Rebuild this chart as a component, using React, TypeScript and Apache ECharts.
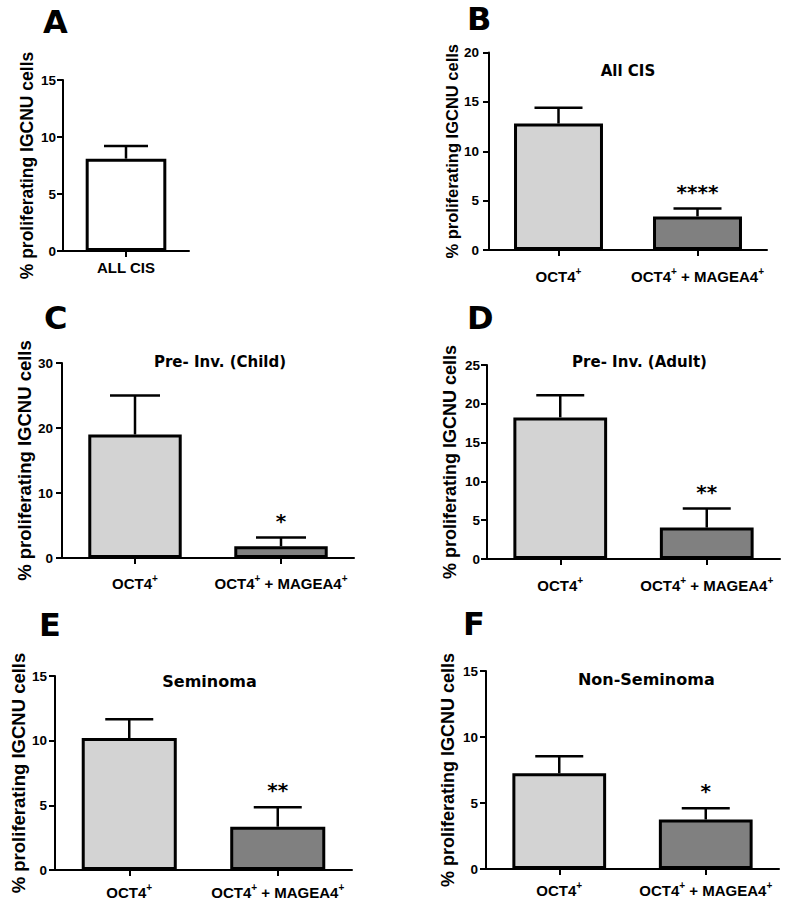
import React, { useEffect, useRef } from "react";
import * as echarts from "echarts";

// ---------- data ----------
const yAxisTitle = "% proliferating IGCNU cells";
const panelLetters = ["A", "B", "C", "D", "E", "F"];
const panelTitles = ["", "All CIS", "Pre- Inv. (Child)", "Pre- Inv. (Adult)", "Seminoma", "Non-Seminoma"];

const catsA = ["ALL CIS"];
const catsPair = ["OCT4+", "OCT4+ + MAGEA4+"];

const meanA = [8.1];
const errA = [9.2];
const sigA = [""];

const meanB = [12.8, 3.4];
const errB = [14.4, 4.2];
const sigB = ["", "****"];

const meanC = [19.0, 1.8];
const errC = [25.0, 3.15];
const sigC = ["", "*"];

const meanD = [18.25, 4.05];
const errD = [21.1, 6.5];
const sigD = ["", "**"];

const meanE = [10.2, 3.35];
const errE = [11.65, 4.85];
const sigE = ["", "**"];

const meanF = [7.25, 3.75];
const errF = [8.55, 4.6];
const sigF = ["", "*"];

const yMaxes = [15, 20, 30, 25, 15, 15];
const yIntervals = [5, 5, 10, 5, 5, 5];

// ---------- layout / style ----------
const TFONT = "DejaVu Sans";
const AFONT = "Liberation Sans";
const LIGHT = "#d3d3d3";
const DARK = "#808080";

const panels = [
  { cats: catsA, mean: meanA, err: errA, sig: sigA, colors: ["#ffffff"] },
  { cats: catsPair, mean: meanB, err: errB, sig: sigB, colors: [LIGHT, DARK] },
  { cats: catsPair, mean: meanC, err: errC, sig: sigC, colors: [LIGHT, DARK] },
  { cats: catsPair, mean: meanD, err: errD, sig: sigD, colors: [LIGHT, DARK] },
  { cats: catsPair, mean: meanE, err: errE, sig: sigE, colors: [LIGHT, DARK] },
  { cats: catsPair, mean: meanF, err: errF, sig: sigF, colors: [LIGHT, DARK] },
];

const layouts = [
  { left: 63, top: 80, width: 126, height: 171, labelMargin: 6.3, tickMargin: 7, nameGap: 27, nameSize: 17.5, letter: [43, 21.5], title: [0, 0], titleSize: 15, cap: 22 },
  { left: 489, top: 52.5, width: 278, height: 197.5, labelMargin: 16.3, tickMargin: 10, nameGap: 29, nameSize: 16.5, letter: [467, 19], title: [628, 70.5], titleSize: 15, cap: 24 },
  { left: 62, top: 363, width: 292, height: 195, labelMargin: 15.3, tickMargin: 9, nameGap: 26, nameSize: 18.5, letter: [44, 317.5], title: [220, 361.5], titleSize: 15, cap: 25 },
  { left: 487, top: 365, width: 293, height: 194, labelMargin: 16.3, tickMargin: 7, nameGap: 28, nameSize: 18, letter: [467, 317.5], title: [639.5, 361.5], titleSize: 15, cap: 24 },
  { left: 55, top: 676, width: 297, height: 194, labelMargin: 12.3, tickMargin: 8, nameGap: 20, nameSize: 18.5, letter: [39, 625], title: [209.5, 681.5], titleSize: 16, cap: 24 },
  { left: 486, top: 671, width: 293, height: 198, labelMargin: 11.3, tickMargin: 8, nameGap: 29, nameSize: 18, letter: [463, 624], title: [646.3, 679], titleSize: 16, cap: 24 },
];

const axisLineStyle = { color: "#000", width: 2 };

function buildOption() {
  const grid = layouts.map((l) => ({ left: l.left, top: l.top, width: l.width, height: l.height }));

  const xAxis = panels.map((p, i) => ({
    type: "category",
    gridIndex: i,
    data: p.cats,
    axisLine: { show: true, lineStyle: axisLineStyle },
    axisTick: { show: true, alignWithLabel: true, length: 6, lineStyle: axisLineStyle },
    axisLabel: {
      interval: 0,
      hideOverlap: false,
      color: "#000",
      fontFamily: AFONT,
      fontWeight: "bold",
      fontSize: 15,
      lineHeight: 20,
      margin: layouts[i].labelMargin,
      formatter: (v: string) => v.replace(/4\+/g, "4{s|+}"),
      rich: {
        s: { fontSize: 10, fontWeight: "bold", fontFamily: AFONT, color: "#000", verticalAlign: "top", lineHeight: 10 },
      },
    },
    splitLine: { show: false },
  }));

  const yAxis = panels.map((p, i) => ({
    type: "value",
    gridIndex: i,
    min: 0,
    max: yMaxes[i],
    interval: yIntervals[i],
    splitLine: { show: false },
    axisLine: { show: true, lineStyle: axisLineStyle },
    axisTick: { show: true, length: 6, lineStyle: axisLineStyle },
    axisLabel: { color: "#000", fontFamily: AFONT, fontWeight: "bold", fontSize: 13.5, margin: layouts[i].tickMargin },
    name: yAxisTitle,
    nameLocation: "middle",
    nameGap: layouts[i].nameGap,
    nameTextStyle: { color: "#000", fontFamily: AFONT, fontWeight: "bold", fontSize: layouts[i].nameSize },
  }));

  const series: any[] = [];
  panels.forEach((p, i) => {
    series.push({
      type: "bar",
      xAxisIndex: i,
      yAxisIndex: i,
      barWidth: "64%",
      data: p.mean.map((v, j) => ({ value: v, itemStyle: { color: p.colors[j] } })),
      itemStyle: { borderColor: "#000", borderWidth: 3 },
      z: 2,
    });
    const cap = layouts[i].cap;
    series.push({
      type: "custom",
      xAxisIndex: i,
      yAxisIndex: i,
      z: 3,
      data: p.mean.map((m, j) => [j, m, p.err[j]]),
      renderItem: (params: any, api: any) => {
        const idx = api.value(0);
        const base = api.coord([idx, api.value(1)]);
        const top = api.coord([idx, api.value(2)]);
        const x = base[0];
        const children: any[] = [
          { type: "line", shape: { x1: x, y1: base[1], x2: x, y2: top[1] }, style: { stroke: "#000", lineWidth: 2.5 } },
          { type: "line", shape: { x1: x - cap, y1: top[1], x2: x + cap, y2: top[1] }, style: { stroke: "#000", lineWidth: 2.5 } },
        ];
        const s = p.sig[params.dataIndex];
        if (s) {
          children.push({
            type: "text",
            x: x,
            y: top[1] - 17,
            style: {
              text: s,
              fill: "#000",
              font: `bold 20px '${TFONT}'`,
              align: "center",
              verticalAlign: "middle",
              textAlign: "center",
              textVerticalAlign: "middle",
            },
          });
        }
        return { type: "group", children };
      },
    });
  });

  const graphic: any[] = [];
  layouts.forEach((l, i) => {
    graphic.push({
      type: "text",
      x: l.letter[0],
      y: l.letter[1],
      style: {
        text: panelLetters[i],
        fill: "#000",
        font: `bold 32px '${TFONT}'`,
        align: "left",
        verticalAlign: "middle",
        textAlign: "left",
        textVerticalAlign: "middle",
      },
    });
    if (panelTitles[i]) {
      graphic.push({
        type: "text",
        x: l.title[0],
        y: l.title[1],
        style: {
          text: panelTitles[i],
          fill: "#000",
          font: `bold ${l.titleSize}px '${TFONT}'`,
          align: "center",
          verticalAlign: "middle",
          textAlign: "center",
          textVerticalAlign: "middle",
        },
      });
    }
  });

  return {
    animation: false,
    backgroundColor: "#ffffff",
    textStyle: { fontFamily: AFONT },
    grid,
    xAxis,
    yAxis,
    series,
    graphic,
  };
}

export default function App() {
  const ref = useRef<HTMLDivElement>(null);
  useEffect(() => {
    if (!ref.current) return;
    const chart = echarts.init(ref.current, undefined, { renderer: "svg" });
    chart.setOption(buildOption() as any);
    return () => chart.dispose();
  }, []);
  return (
    <div
      ref={ref}
      style={{ position: "absolute", left: 0, top: 0, width: 800, height: 909, background: "#fff" }}
    />
  );
}
